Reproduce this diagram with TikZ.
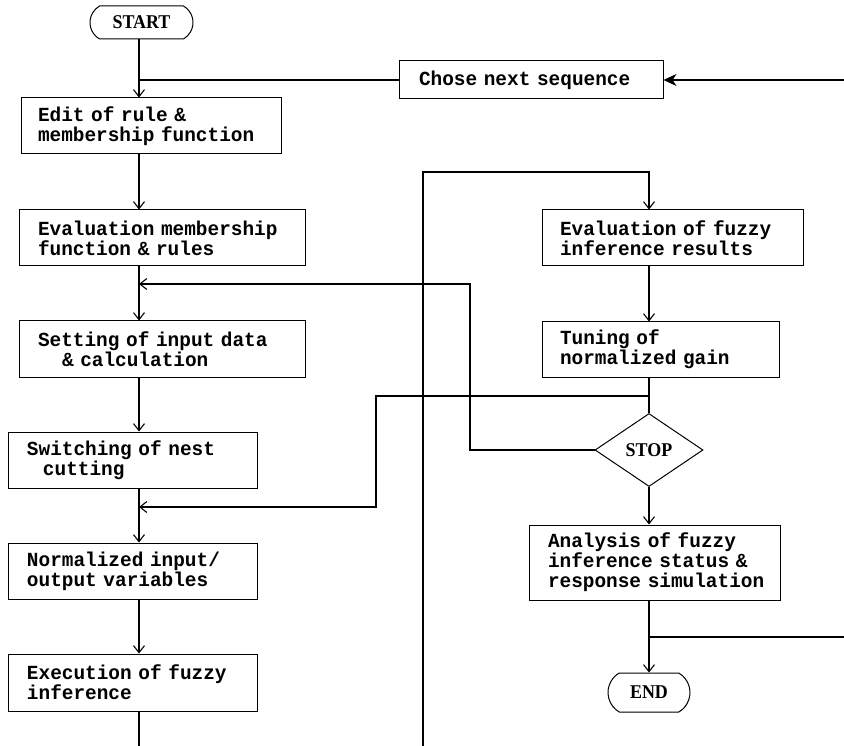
\documentclass[tikz,border=0pt]{standalone}
\usepackage{fontspec}
\setmonofont{Liberation Mono}[FakeStretch=0.97]
\newfontfamily\capsfont{Liberation Serif}[FakeStretch=0.92]
\usetikzlibrary{shapes.misc,shapes.geometric,arrows.meta}
\begin{document}
\begin{tikzpicture}[x=1pt,y=-1pt,
  line width=1.1pt,
  every node/.style={line width=1pt},
  procbox/.style={draw, rectangle, align=left, inner ysep=0pt,
    font=\fontsize{20}{20}\selectfont\ttfamily\bfseries},
  termbox/.style={draw, rounded rectangle, rounded rectangle arc length=120,
    inner sep=0pt, font=\fontsize{19.5}{18}\selectfont\capsfont\bfseries},
  decbox/.style={draw, diamond, inner sep=0pt, minimum width=108pt,
    minimum height=73pt, font=\fontsize{19.5}{18}\selectfont\capsfont\bfseries},
  arr/.style={-{Straight Barb[length=7pt,width=11pt,line width=1.1pt]}},
  farr/.style={-{Stealth[length=13pt,width=12pt,inset=4pt]}}
]
\fill[white] (0,0) rectangle (844,746);
\useasboundingbox (0,0) rectangle (844,746);

% coordinates for the two main verticals
\coordinate (mx) at (139,0);
\coordinate (rx) at (649,0);

% left column
\node[termbox, minimum width=103pt, minimum height=33pt] (start) at (141.5,22.5) {START};
\node[procbox, text width=226pt, inner xsep=17pt, minimum height=56pt] (edit) at (151,126)
  {\mbox{Edit of rule \&}\\\mbox{membership function}};
\node[procbox, text width=248pt, inner xsep=19pt, minimum height=56pt] (evalmf) at (162,238)
  {\mbox{Evaluation membership}\\\mbox{function \& rules}};
\node[procbox, text width=248pt, inner xsep=19pt, minimum height=56pt] (setting) at (162,349)
  {\mbox{Setting of input data}\\\hspace*{24pt}\mbox{\& calculation}};
\node[procbox, text width=211pt, inner xsep=19pt, minimum height=56pt] (switching) at (132.5,460)
  {\mbox{Switching of nest}\\\hspace*{16pt}\mbox{cutting}};
\node[procbox, text width=211pt, inner xsep=19pt, minimum height=56pt] (normalized) at (132.5,571)
  {\mbox{Normalized input/}\\\mbox{output variables}};
\node[procbox, text width=211pt, inner xsep=19pt, minimum height=57pt] (execution) at (132.5,682.5)
  {\mbox{Execution of fuzzy}\\\mbox{inference}};

% top right
\node[procbox, text width=224pt, inner xsep=20pt, minimum height=38pt] (chose) at (531,80)
  {\mbox{Chose next sequence}};

% right column
\node[procbox, text width=225pt, inner xsep=18pt, minimum height=56pt] (evalres) at (672.5,238)
  {\mbox{Evaluation of fuzzy}\\\mbox{inference results}};
\node[procbox, text width=201pt, inner xsep=18pt, minimum height=55pt] (tuning) at (660.5,349.5)
  {\mbox{Tuning of}\\\mbox{normalized gain}};
\node[decbox] (stop) at (649,450) {STOP};
\node[procbox, text width=213pt, inner xsep=19pt, minimum height=75pt] (analysis) at (654.5,562.5)
  {\mbox{Analysis of fuzzy}\\\mbox{inference status \&}\\\mbox{response simulation}};
\node[termbox, minimum width=82pt, minimum height=39pt] (end) at (649,692.5) {END};

% helper coordinates
\coordinate (re1) at (844,80);
\coordinate (b1) at (139,746);
\coordinate (b2) at (423,746);
\coordinate (c1) at (423,172);
\coordinate (j1) at (649,396);
\coordinate (c2) at (376,396);
\coordinate (c3) at (376,507);
\coordinate (c4) at (470,450);
\coordinate (c5) at (470,284);
\coordinate (j2) at (649,637);
\coordinate (re2) at (844,637);

% left column connectors
\draw[arr] (start.south -| mx) -- (edit.north -| mx);
\draw (chose.west) -- (chose.west -| mx);
\draw[farr] (re1) -- (chose.east);
\draw[arr] (edit.south -| mx) -- (evalmf.north -| mx);
\draw[arr] (evalmf.south -| mx) -- (setting.north -| mx);
\draw[arr] (setting.south -| mx) -- (switching.north -| mx);
\draw[arr] (switching.south -| mx) -- (normalized.north -| mx);
\draw[arr] (normalized.south -| mx) -- (execution.north -| mx);
\draw (execution.south -| mx) -- (b1);

% right column connectors
\draw[arr] (b2) -- (c1) -| (evalres.north -| rx);
\draw[arr] (evalres.south -| rx) -- (tuning.north -| rx);
\draw (tuning.south -| rx) -- (stop.north);
\draw[arr] (j1) -- (c2) -- (c3) -- (c3 -| mx);
\draw[arr] (stop.west) -- (c4) -- (c5) -- (c5 -| mx);
\draw[arr] (stop.south) -- (analysis.north -| rx);
\draw[arr] (analysis.south -| rx) -- (end.north);
\draw (j2) -- (re2);
\end{tikzpicture}
\end{document}
